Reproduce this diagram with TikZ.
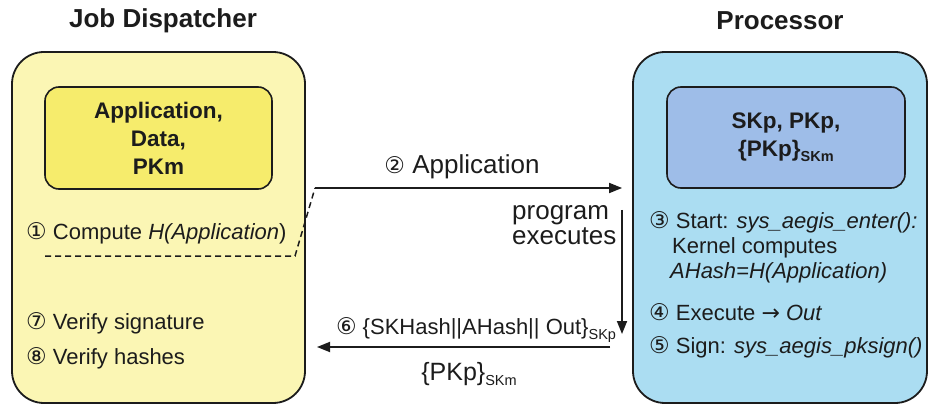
\documentclass[tikz,border=0pt]{standalone}
\usepackage{fontspec}
\setmainfont{Liberation Sans}
\newfontfamily\symfont{DejaVu Sans}
\usetikzlibrary{arrows.meta}

% circled step numbers and lowered subscripts
\newcommand{\stepno}[1]{{\symfont\fontsize{23}{23}\selectfont #1}}
\newcommand{\lowtext}[1]{\raisebox{-0.45ex}{\fontsize{14.5}{14.5}\selectfont #1}}

\definecolor{inkc}{HTML}{1C1C1C}
\definecolor{jdpale}{HTML}{FBF6B4}
\definecolor{jdstrong}{HTML}{F6EC6C}
\definecolor{prpale}{HTML}{ABDDF2}
\definecolor{prstrong}{HTML}{9EBDE8}

\begin{document}
\begin{tikzpicture}[x=1pt,y=-1pt,
  outerbox/.style={draw=inkc, line width=1.8pt, rounded corners=32pt, inner sep=0},
  innerbox/.style={draw=inkc, line width=1.6pt, rounded corners=14pt, align=center,
    text=inkc, font=\bfseries\fontsize{22.5}{28}\selectfont},
  title/.style={text=inkc, font=\bfseries\fontsize{26}{30}\selectfont},
  txt/.style={anchor=west, inner sep=0, text=inkc, font=\fontsize{22}{26}\selectfont},
  midtxt/.style={inner sep=0, text=inkc, font=\fontsize{26}{25}\selectfont},
  flow/.style={draw=inkc, line width=1.8pt, -{Triangle[length=13pt,width=10pt]}},
  hashline/.style={draw=inkc, line width=1.5pt, dash pattern=on 6pt off 4pt}
]
\useasboundingbox (0,0) rectangle (929,406);

% titles
\node[title] (jdtitle) at (163,21) {Job Dispatcher};
\node[title] (prtitle) at (780,21) {Processor};

% job dispatcher
\node[outerbox, fill=jdpale, minimum width=293pt, minimum height=351pt] (jd) at (158.5,227.5) {};
\node[innerbox, fill=jdstrong, minimum width=227pt, minimum height=102pt] (jdkeys) at (158.5,138)
  {Application,\\Data,\\PKm};
\node[txt] (s1) at (26,233) {\stepno{①} Compute \textit{H(Application})};
\node[txt] (s7) at (26,323) {\stepno{⑦} Verify signature};
\node[txt] (s8) at (26,358) {\stepno{⑧} Verify hashes};

% processor
\node[outerbox, fill=prpale, minimum width=294pt, minimum height=351pt] (pr) at (780,227.5) {};
\node[innerbox, fill=prstrong, minimum width=238pt, minimum height=101pt] (prkeys) at (786,137.5)
  {SKp, PKp,\\\{PKp\}\lowtext{SKm}};
\node[txt] (s3) at (649,222) {\stepno{③} Start: \textit{sys\_aegis\_enter():}};
\node[txt] (s3b) at (672,248) {Kernel computes};
\node[txt] (s3c) at (670,273) {\textit{AHash=H(Application)}};
\node[txt] (s4) at (649,312) {\stepno{④} Execute {\symfont→} \textit{Out}};
\node[txt] (s5) at (649,347) {\stepno{⑤} Sign: \textit{sys\_aegis\_pksign()}};

% messages between the two parties
\coordinate (sendstart) at (315,188);
\coordinate (hashstart) at (45,256);
\coordinate (hashbend) at (295,256);
\coordinate (runtop) at (622,210);
\coordinate (runbottom) at (622,334);
\coordinate (replystart) at (610,347);
\coordinate (replyend) at (317,347);

\draw[hashline] (hashstart) -- (hashbend) -- (sendstart);
\draw[flow] (sendstart) -- ([xshift=-10pt]sendstart -| pr.west);
\node[midtxt] (sendlabel) at (462,167) {\stepno{②} Application};

\draw[flow] (runtop) -- (runbottom);
\node[midtxt, anchor=west, align=left] (runlabel) at (512,225) {program\\executes};

\draw[flow] (replystart) -- (replyend);
\node[txt, anchor=center] (replylabel) at (476,330)
  {\stepno{⑥} \{SKHash||AHash|| Out\}\lowtext{SKp}};
\node[midtxt, font=\fontsize{25}{25}\selectfont] (certlabel) at (469,374) {\{PKp\}\lowtext{SKm}};
\end{tikzpicture}
\end{document}
